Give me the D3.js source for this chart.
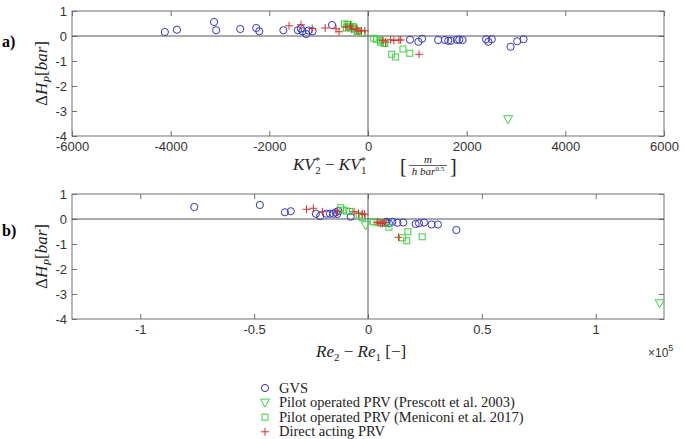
<!DOCTYPE html>
<html><head><meta charset="utf-8">
<script src="https://cdn.jsdelivr.net/npm/d3@7"></script>
<style>body{margin:0;background:#fff}svg{display:block}</style>
</head><body><svg id="c" width="685" height="439"></svg>
<script>
// ---------- data ----------
const yTicks = [1, 0, -1, -2, -3, -4];
const xTicksA = [-6000, -4000, -2000, 0, 2000, 4000, 6000];
const xTicksB = [-100000, -50000, 0, 50000, 100000];

const gvsA = [[-4118,0.16],[-3873,0.25],[-3120,0.56],[-3079,0.23],[-2590,0.28],[-2265,0.32],[-2204,0.19],[-1715,0.23],[-1422,0.23],[-1361,0.3],[-1328,0.19],[-1253,0.08],[-1206,0.22],[-1124,0.19],[-729,0.44],
  [852,-0.15],[1022,-0.23],[1097,-0.11],[1422,-0.16],[1558,-0.16],[1626,-0.19],[1680,-0.19],[1802,-0.15],[1850,-0.15],[1918,-0.16],[2393,-0.13],[2440,-0.23],[2509,-0.13],[2888,-0.43],[3024,-0.21],[3153,-0.13]];
const prescottA = [[2841,-3.33]];
const meniconiA = [[-479,0.48],[-424,0.46],[-390,0.47],[-438,0.32],[-377,0.37],[-356,0.32],[-310,0.37],[-289,0.36],[-275,0.28],[-220,0.18],[-208,0.21],[-118,0.11],
  [118,-0.09],[173,-0.13],[255,-0.19],[255,-0.25],[323,-0.29],[342,-0.3],[479,-0.73],[560,-0.84],[709,-0.52],[848,-0.69]];
const directA = [[-1600,0.41],[-1358,0.45],[-1130,0.3],[-869,0.32],[-648,0.29],[-587,0.17],[-450,0.36],[-356,0.4],[-330,0.28],[-234,0.28],[-200,0.2],[-132,0.2],[-65,0.21],
  [289,-0.17],[356,-0.24],[458,-0.15],[526,-0.18],[628,-0.16],[662,-0.16],[1035,-0.73]];

const gvsB = [[-76300,0.48],[-47500,0.56],[-36500,0.27],[-33900,0.31],[-22900,0.21],[-21000,0.12],[-18300,0.21],[-16700,0.21],[-15200,0.21],[-14200,0.27],[-13000,0.32],[-13500,0.2],[-7600,0.09],
  [7800,-0.15],[8200,-0.11],[9200,-0.17],[10700,-0.11],[12900,-0.15],[15500,-0.14],[20900,-0.2],[22400,-0.17],[24600,-0.14],[27900,-0.22],[30700,-0.22],[38800,-0.44]];
const prescottB = [[-1000,-0.25],[128100,-3.37]];
const meniconiB = [[-12000,0.45],[-11000,0.36],[-9500,0.32],[-8000,0.3],[-3900,0.16],[-2500,0.05],[2300,-0.11],[4000,-0.13],[7000,-0.17],[9200,-0.33],[15100,-0.75],[17000,-0.87],[17500,-0.51],[23800,-0.71]];
const directB = [[-27000,0.39],[-24000,0.43],[-20000,0.29],[-13400,0.29],[-6100,0.29],[-4200,0.23],[-2500,0.21],[-1500,0.19],[4100,-0.13],[4800,-0.15],[5600,-0.17],[6300,-0.17],[7300,-0.13],[13400,-0.73]];

const legendLabels = ["GVS","Pilot operated PRV (Prescott et al. 2003)","Pilot operated PRV (Meniconi et al. 2017)","Direct acting PRV"];

// ---------- drawing ----------
const svg = d3.select("#c");
const BLUE="#3535c0", GREEN="#3ecf3e", RED="#d83030", AX="#707070", TXT="#333";
const L=72, R=664;
const serif="'Liberation Serif','Times New Roman',serif";

function marker(g, type, x, y){
  if(type==="o") g.append("circle").attr("cx",x).attr("cy",y).attr("r",3.6).attr("fill","none").attr("stroke",BLUE).attr("stroke-width",1);
  else if(type==="v") g.append("path").attr("d",`M${x-4.5},${y-3.5}L${x+4.5},${y-3.5}L${x},${y+4.5}Z`).attr("fill","none").attr("stroke",GREEN).attr("stroke-width",1);
  else if(type==="s") g.append("rect").attr("x",x-3).attr("y",y-3).attr("width",6).attr("height",6).attr("fill","none").attr("stroke",GREEN).attr("stroke-width",1);
  else if(type==="+") g.append("path").attr("d",`M${x-4},${y}H${x+4}M${x},${y-4}V${y+4}`).attr("fill","none").attr("stroke",RED).attr("stroke-width",1);
}

function panel(top, bot, xDomain, xTicks, fmt, series){
  const x = d3.scaleLinear().domain(xDomain).range([L,R]);
  const y = d3.scaleLinear().domain([-4,1]).range([bot,top]);
  const g = svg.append("g");
  const ax = g.append("g").attr("transform",`translate(0,${bot})`).call(d3.axisBottom(x).tickValues(xTicks).tickFormat(fmt).tickSizeInner(-5).tickSizeOuter(0).tickPadding(6));
  const axT = g.append("g").attr("transform",`translate(0,${top})`).call(d3.axisTop(x).tickValues(xTicks).tickFormat("").tickSizeInner(-5).tickSizeOuter(0));
  const ay = g.append("g").attr("transform",`translate(${L},0)`).call(d3.axisLeft(y).tickValues(yTicks).tickFormat(d=>String(d)).tickSizeInner(-5).tickSizeOuter(0).tickPadding(5));
  const ayR = g.append("g").attr("transform",`translate(${R},0)`).call(d3.axisRight(y).tickValues(yTicks).tickFormat("").tickSizeInner(-5).tickSizeOuter(0));
  [ax,axT,ay,ayR].forEach(a=>{a.select(".domain").remove(); a.selectAll("line").attr("stroke",AX);
    a.selectAll("text").attr("fill",TXT).style("font-family","'Liberation Sans',Arial,sans-serif").style("font-size","13px");});
  ay.selectAll("text").attr("dy","0.35em");
  g.append("rect").attr("x",L).attr("y",top).attr("width",R-L).attr("height",bot-top).attr("fill","none").attr("stroke",AX).attr("stroke-width",1);
  g.append("line").attr("x1",L).attr("x2",R).attr("y1",y(0)).attr("y2",y(0)).attr("stroke","#555").attr("stroke-width",1);
  g.append("line").attr("x1",x(0)).attr("x2",x(0)).attr("y1",top).attr("y2",bot).attr("stroke","#555").attr("stroke-width",1);
  const m = g.append("g");
  series.forEach(([data,type])=>data.forEach(d=>marker(m,type,x(d[0]),y(d[1]))));
  const yl = g.append("text").attr("transform",`translate(47,${(top+bot)/2}) rotate(-90)`).attr("text-anchor","middle")
    .style("font-family",serif).style("font-size","17px").attr("fill","#222");
  yl.append("tspan").text("Δ");
  yl.append("tspan").attr("font-style","italic").text("H");
  yl.append("tspan").attr("font-style","italic").attr("font-size","11px").attr("dy",4).text("P");
  yl.append("tspan").attr("dy",-4).text("[");
  yl.append("tspan").attr("font-style","italic").text("bar");
  yl.append("tspan").text("]");
  return {x,y};
}

panel(11,136,[-6000,6000],xTicksA,d=>String(d),[[gvsA,"o"],[prescottA,"v"],[meniconiA,"s"],[directA,"+"]]);
panel(194,319,[-130000,130000],xTicksB,d=>String(d/1e5),[[gvsB,"o"],[prescottB,"v"],[meniconiB,"s"],[directB,"+"]]);

svg.append("text").attr("x",2).attr("y",47).text("a)").style("font-family",serif).style("font-weight","bold").style("font-size","16px");
svg.append("text").attr("x",2).attr("y",236).text("b)").style("font-family",serif).style("font-weight","bold").style("font-size","16px");

// x label A
const xa = svg.append("text").attr("x",293).attr("y",170).style("font-family",serif).style("font-size","17px").attr("fill","#222");
xa.append("tspan").attr("font-style","italic").text("KV");
xa.append("tspan").attr("font-size","11px").attr("dy",-6).text("*");
xa.append("tspan").attr("font-size","11px").attr("dx",-5).attr("dy",10).text("2");
xa.append("tspan").attr("dy",-4).text(" − ");
xa.append("tspan").attr("font-style","italic").text("KV");
xa.append("tspan").attr("font-size","11px").attr("dy",-6).text("*");
xa.append("tspan").attr("font-size","11px").attr("dx",-5).attr("dy",10).text("1");
svg.append("text").attr("x",400).attr("y",173).text("[").style("font-family",serif).style("font-size","20px").attr("fill","#222");
svg.append("text").attr("x",450).attr("y",173).text("]").style("font-family",serif).style("font-size","20px").attr("fill","#222");
svg.append("text").attr("x",428).attr("y",163).attr("text-anchor","middle").text("m").style("font-family",serif).style("font-style","italic").style("font-size","11px").attr("fill","#222");
svg.append("line").attr("x1",409).attr("x2",447).attr("y1",165.5).attr("y2",165.5).attr("stroke","#222").attr("stroke-width",0.7);
const den = svg.append("text").attr("x",428).attr("y",175).attr("text-anchor","middle").style("font-family",serif).style("font-style","italic").style("font-size","11px").attr("fill","#222");
den.append("tspan").text("h bar");
den.append("tspan").attr("font-size","7px").attr("dy",-4).attr("font-style","normal").text("0.5");

// x label B
const xb = svg.append("text").attr("x",316).attr("y",357).style("font-family",serif).style("font-size","17px").attr("fill","#222");
xb.append("tspan").attr("font-style","italic").text("Re");
xb.append("tspan").attr("font-size","11px").attr("dy",4).text("2");
xb.append("tspan").attr("dy",-4).text(" − ");
xb.append("tspan").attr("font-style","italic").text("Re");
xb.append("tspan").attr("font-size","11px").attr("dy",4).text("1");
xb.append("tspan").attr("dy",-4).text("   [−]");
const ex = svg.append("text").attr("x",648).attr("y",357).style("font-family","'Liberation Sans',Arial,sans-serif").style("font-size","12px").attr("fill",TXT);
ex.append("tspan").text("×10");
ex.append("tspan").attr("font-size","9px").attr("dy",-6).text("5");

// legend
const types=["o","v","s","+"];
const lg = svg.append("g");
legendLabels.forEach((t,i)=>{
  const yy = 388 + i*14.6;
  marker(lg,types[i],265,yy);
  lg.append("text").attr("x",279).attr("y",yy+4.5).text(t).style("font-family",serif).style("font-size","14.5px").attr("fill","#222");
});
</script></body></html>
